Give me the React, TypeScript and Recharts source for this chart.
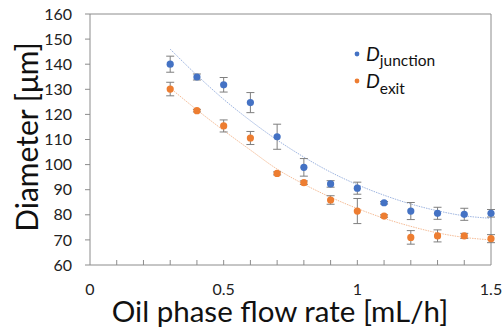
import {
  ComposedChart,
  Scatter,
  Line,
  XAxis,
  YAxis,
  ErrorBar,
  ReferenceLine,
} from 'recharts'

const FLOW_RATE = [0.3, 0.4, 0.5, 0.6, 0.7, 0.8, 0.9, 1.0, 1.1, 1.2, 1.3, 1.4, 1.5]
const D_JUNCTION = [140, 134.9, 131.8, 124.7, 111.1, 98.9, 92.3, 90.6, 84.8, 81.5, 80.6, 80.2, 80.6]
const D_JUNCTION_ERR = [3.2, 1.2, 2.9, 4, 5, 3.5, 1.3, 2.4, 0.5, 3.4, 2.4, 2.4, 1.5]
const D_EXIT = [130.1, 121.5, 115.4, 110.6, 96.5, 92.8, 85.9, 81.5, 79.5, 71, 71.6, 71.6, 70.5]
const D_EXIT_ERR = [2.7, 0.5, 2.4, 2.6, 0.6, 0.7, 1.7, 5, 0.5, 2.7, 2.4, 1, 1.6]
// dotted trend lines at each flow rate
const JUNCTION_FIT = [146, 135.6, 126, 117.5, 109.8, 103, 97, 92, 87.8, 84.3, 81.6, 79.6, 78.6]
const EXIT_FIT = [130.5, 121.8, 113.6, 105.8, 98.2, 92.2, 87, 82.5, 78.6, 75.4, 72.8, 71, 70]

const X_TICKS = [0, 0.1, 0.2, 0.3, 0.4, 0.5, 0.6, 0.7, 0.8, 0.9, 1, 1.1, 1.2, 1.3, 1.4, 1.5]
const X_LABELS = [0, 0.5, 1, 1.5]
const Y_TICKS = [60, 70, 80, 90, 100, 110, 120, 130, 140, 150, 160]

const BLUE = '#4472c4'
const ORANGE = '#ed7d31'
const AXIS = '#8c8c8c'
const FONT = 'Lato, "Open Sans", sans-serif'

const data = FLOW_RATE.map((x, i) => ({
  x,
  junction: D_JUNCTION[i],
  junctionErr: D_JUNCTION_ERR[i],
  exit: D_EXIT[i],
  exitErr: D_EXIT_ERR[i],
  junctionFit: JUNCTION_FIT[i],
  exitFit: EXIT_FIT[i],
}))

function FlowTick({ x, y, payload }: any) {
  const v = payload.value
  return (
    <g>
      {v > 0 && v < 1.5 && <line x1={x} x2={x} y1={y} y2={y - 5} stroke={AXIS} />}
      {X_LABELS.includes(v) && (
        <text x={x} y={y + 30} textAnchor="middle" fontSize={16} fontFamily={FONT} fill="#222">
          {v}
        </text>
      )}
    </g>
  )
}

const dot = (color: string) => (props: any) => (
  <circle cx={props.cx} cy={props.cy} r={3.6} fill={color} />
)

export default function App() {
  return (
    <div style={{ position: 'absolute', left: 0, top: 0, width: 503, height: 328, background: '#fff' }}>
      <ComposedChart
        width={503}
        height={328}
        data={data}
        margin={{ top: 14, right: 12, left: 0, bottom: 0 }}
      >
        <XAxis
          dataKey="x"
          type="number"
          domain={[0, 1.5]}
          ticks={X_TICKS}
          interval={0}
          height={63}
          tickSize={0}
          tickMargin={0}
          tickLine={false}
          stroke={AXIS}
          tick={<FlowTick />}
          label={() => (
            <text x={280} y={322} textAnchor="middle" fontSize={29.5} fontFamily={FONT} fill="#111">
              Oil phase flow rate [mL/h]
            </text>
          )}
        />
        <YAxis
          type="number"
          domain={[60, 160]}
          ticks={Y_TICKS}
          interval={0}
          width={90}
          tickSize={5}
          tickMargin={13}
          stroke={AXIS}
          tick={{ fontSize: 16, fontFamily: FONT, fill: '#222' }}
          label={() => (
            <text
              transform="translate(38,137) rotate(-90)"
              textAnchor="middle"
              fontSize={30}
              fontFamily={FONT}
              fill="#111"
            >
              Diameter [μm]
            </text>
          )}
        />
        <ReferenceLine y={160} stroke={AXIS} />
        <ReferenceLine x={1.5} stroke={AXIS} />
        <Line
          dataKey="junctionFit"
          type="monotone"
          stroke="#9db4e0"
          strokeWidth={1}
          strokeDasharray="1.5 1"
          dot={false}
          isAnimationActive={false}
        />
        <Line
          dataKey="exitFit"
          type="monotone"
          stroke="#f5bc96"
          strokeWidth={1}
          strokeDasharray="1.5 1"
          dot={false}
          isAnimationActive={false}
        />
        <Scatter dataKey="junction" shape={dot(BLUE)} isAnimationActive={false}>
          <ErrorBar dataKey="junctionErr" direction="y" width={4} stroke="#7f7f7f" strokeWidth={1} />
        </Scatter>
        <Scatter dataKey="exit" shape={dot(ORANGE)} isAnimationActive={false}>
          <ErrorBar dataKey="exitErr" direction="y" width={4} stroke="#7f7f7f" strokeWidth={1} />
        </Scatter>
      </ComposedChart>

      {/* legend */}
      <svg width={503} height={328} style={{ position: 'absolute', left: 0, top: 0, pointerEvents: 'none' }}>
        <circle cx={357} cy={54} r={2.4} fill={BLUE} />
        <text x={366} y={61} fontFamily={FONT} fill="#111">
          <tspan fontSize={19.5} fontStyle="italic">D</tspan>
          <tspan fontSize={15.5} dy={5}>junction</tspan>
        </text>
        <circle cx={357} cy={81} r={2.4} fill={ORANGE} />
        <text x={366} y={88} fontFamily={FONT} fill="#111">
          <tspan fontSize={19.5} fontStyle="italic">D</tspan>
          <tspan fontSize={15.5} dy={6}>exit</tspan>
        </text>
      </svg>
    </div>
  )
}
